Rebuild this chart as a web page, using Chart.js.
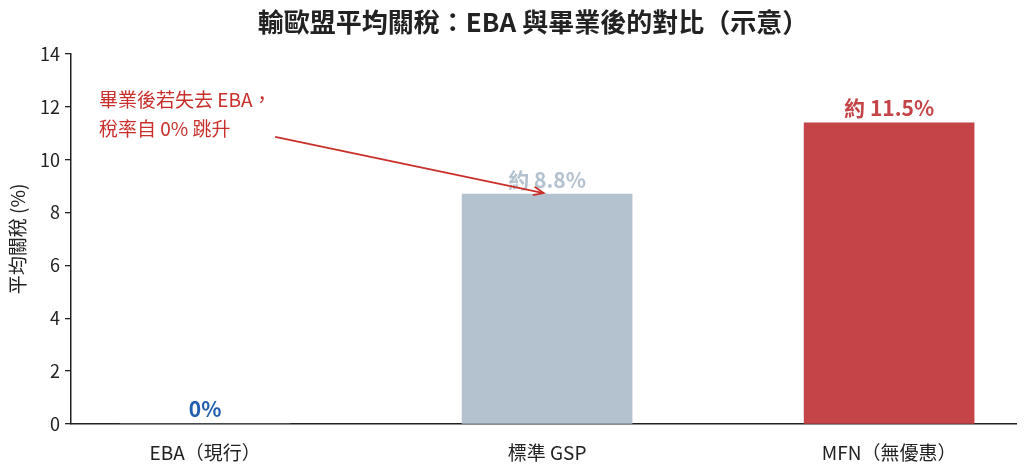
<!DOCTYPE html>
<html lang="zh-Hant">
<head>
<meta charset="UTF-8">
<title>輸歐盟平均關稅</title>
<script src="https://cdn.jsdelivr.net/npm/chart.js"></script>
<style>
  html, body { margin: 0; padding: 0; background: #fff; }
  #wrap { width: 1024px; height: 475px; }
</style>
</head>
<body>
<div id="wrap"><canvas id="grafico"></canvas></div>
<script>
  // dados
  var categorias = ['EBA（現行）', '標準 GSP', 'MFN（無優惠）'];
  var valores = [0, 8.7, 11.4];
  var rotulos = ['0%', '約 8.8%', '約 11.5%'];
  var coresBarra = ['#b4c2d0', '#b4c2d0', '#c44448'];
  var coresRotulo = ['#1f5fae', '#b4c2d0', '#c44448'];
  var ticksY = [0, 2, 4, 6, 8, 10, 12, 14];

  var titulo = '輸歐盟平均關稅：EBA 與畢業後的對比（示意）';
  var nota = ['畢業後若失去 EBA，', '稅率自 0% 跳升'];
  var notaPos = { x: -0.31, y1: 12.26, y2: 11.16 };
  var seta = { x0: 0.205, y0: 10.86, x1: 0.99, y1: 8.74 };

  var fonte = "'Noto Sans CJK TC', 'Noto Sans', sans-serif";

  var extras = {
    id: 'extras',
    afterDatasetsDraw: function (chart) {
      var ctx = chart.ctx;
      var x = chart.scales.x, y = chart.scales.y;
      ctx.save();
      // titulo
      ctx.fillStyle = '#222';
      ctx.font = 'bold 26px ' + fonte;
      ctx.textAlign = 'center';
      ctx.textBaseline = 'middle';
      ctx.fillText(titulo, 533, 22);

      // rotulos das barras
      ctx.font = 'bold 21px ' + fonte;
      ctx.textBaseline = 'bottom';
      valores.forEach(function (v, i) {
        ctx.fillStyle = coresRotulo[i];
        ctx.fillText(rotulos[i], x.getPixelForValue(i), y.getPixelForValue(v) - 4);
      });

      // nota
      ctx.fillStyle = '#c9302c';
      ctx.font = '19px ' + fonte;
      ctx.textAlign = 'left';
      ctx.textBaseline = 'middle';
      ctx.fillText(nota[0], x.getPixelForValue(notaPos.x), y.getPixelForValue(notaPos.y1));
      ctx.fillText(nota[1], x.getPixelForValue(notaPos.x), y.getPixelForValue(notaPos.y2));

      // seta
      var ax = x.getPixelForValue(seta.x0), ay = y.getPixelForValue(seta.y0);
      var bx = x.getPixelForValue(seta.x1), by = y.getPixelForValue(seta.y1);
      ctx.strokeStyle = '#c9302c';
      ctx.lineWidth = 1.8;
      ctx.beginPath();
      ctx.moveTo(ax, ay);
      ctx.lineTo(bx, by);
      ctx.stroke();
      var ang = Math.atan2(by - ay, bx - ax);
      ctx.beginPath();
      ctx.moveTo(bx - 11 * Math.cos(ang - 0.4), by - 11 * Math.sin(ang - 0.4));
      ctx.lineTo(bx, by);
      ctx.lineTo(bx - 11 * Math.cos(ang + 0.4), by - 11 * Math.sin(ang + 0.4));
      ctx.stroke();
      ctx.restore();
    }
  };

  new Chart(document.getElementById('grafico').getContext('2d'), {
    type: 'bar',
    data: {
      datasets: [{
        data: valores.map(function (v, i) { return { x: i, y: v }; }),
        backgroundColor: coresBarra,
        barThickness: 170
      }]
    },
    options: {
      responsive: true,
      maintainAspectRatio: false,
      animation: false,
      layout: { padding: { top: 54, right: 8, left: 0, bottom: 0 } },
      plugins: { legend: { display: false }, tooltip: { enabled: false }, title: { display: false } },
      scales: {
        x: {
          type: 'linear',
          offset: false,
          min: -0.392,
          max: 2.371,
          afterBuildTicks: function (s) { s.ticks = categorias.map(function (c, i) { return { value: i }; }); },
          afterFit: function (s) { s.height = 51; },
          ticks: {
            callback: function (v) { return categorias[v]; },
            font: { family: fonte, size: 19 },
            color: '#222',
            padding: 9,
            maxRotation: 0,
            autoSkip: false
          },
          grid: { display: false },
          border: { display: true, color: '#222', width: 1.5 }
        },
        y: {
          min: 0,
          max: 14,
          afterBuildTicks: function (s) { s.ticks = ticksY.map(function (t) { return { value: t }; }); },
          afterFit: function (s) { s.width = 71; },
          ticks: {
            font: { family: fonte, size: 18 },
            color: '#222',
            padding: 5
          },
          grid: { display: true, drawOnChartArea: false, drawTicks: true, tickLength: 6, color: '#222', lineWidth: 1.3 },
          border: { display: true, color: '#222', width: 1.5 },
          title: {
            display: true,
            text: '平均關稅 (%)',
            font: { family: fonte, size: 19 },
            color: '#222',
            padding: { top: 6, bottom: 0 }
          }
        }
      }
    },
    plugins: [extras]
  });
</script>
</body>
</html>
